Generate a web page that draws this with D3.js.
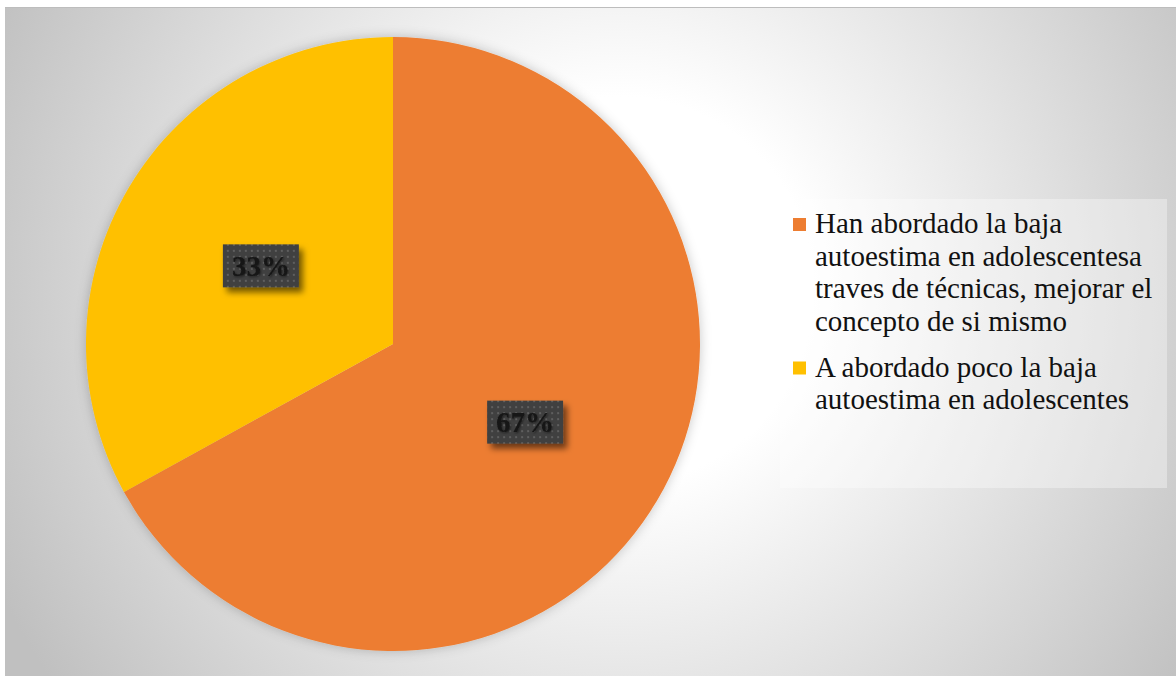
<!DOCTYPE html>
<html>
<head>
<meta charset="utf-8">
<script src="https://cdn.jsdelivr.net/npm/d3@7"></script>
<style>
  html, body { margin: 0; padding: 0; background: #ffffff; }
  svg { display: block; }
</style>
</head>
<body>
<svg id="chart" width="1176" height="676"></svg>
<script>
const categories = [
  "Han abordado la baja autoestima en adolescentesa traves de técnicas, mejorar el concepto de si mismo",
  "A abordado poco la baja autoestima en adolescentes"
];
const values = [67, 33];
const labels = ["67%", "33%"];
const colors = ["#ED7D31", "#FFC000"];

const svg = d3.select("#chart");
const defs = svg.append("defs");

// background radial gradient
const bg = defs.append("radialGradient")
  .attr("id", "bgGrad")
  .attr("gradientUnits", "userSpaceOnUse")
  .attr("cx", 620).attr("cy", 290).attr("r", 690);
bg.append("stop").attr("offset", "0%").attr("stop-color", "#ffffff");
bg.append("stop").attr("offset", "28%").attr("stop-color", "#ffffff");
bg.append("stop").attr("offset", "100%").attr("stop-color", "#c0c0c0");

// pie shadow
const pieShadow = defs.append("filter").attr("id", "pieShadow")
  .attr("x", "-10%").attr("y", "-10%").attr("width", "120%").attr("height", "120%");
pieShadow.append("feDropShadow").attr("dx", 0).attr("dy", 0)
  .attr("stdDeviation", 6).attr("flood-color", "#000").attr("flood-opacity", 0.22);

// label box shadow
const boxShadow = defs.append("filter").attr("id", "boxShadow")
  .attr("x", "-30%").attr("y", "-30%").attr("width", "160%").attr("height", "170%");
boxShadow.append("feDropShadow").attr("dx", 4).attr("dy", 5)
  .attr("stdDeviation", 3).attr("flood-color", "#000").attr("flood-opacity", 0.55);

const textShadow = defs.append("filter").attr("id", "textShadow")
  .attr("x", "-20%").attr("y", "-20%").attr("width", "140%").attr("height", "140%");
textShadow.append("feDropShadow").attr("dx", 1).attr("dy", 1)
  .attr("stdDeviation", 1).attr("flood-color", "#000").attr("flood-opacity", 0.5);

// dotted pattern
const pat = defs.append("pattern").attr("id", "dots")
  .attr("patternUnits", "userSpaceOnUse").attr("width", 6).attr("height", 6);
pat.append("rect").attr("width", 6).attr("height", 6).attr("fill", "#404040");
pat.append("rect").attr("x", 2).attr("y", 2).attr("width", 2).attr("height", 2).attr("fill", "#5e5e5e");

// chart area
svg.append("rect")
  .attr("x", 5).attr("y", 7).attr("width", 1171).attr("height", 669)
  .attr("fill", "url(#bgGrad)");
svg.append("line").attr("x1", 5).attr("x2", 1176).attr("y1", 7.5).attr("y2", 7.5)
  .attr("stroke", "#bdbdbd").attr("stroke-width", 1);

// pie
const cx = 393, cy = 344, R = 307;
const pie = d3.pie().sort(null).value(d => d);
const arcs = pie(values);
const arc = d3.arc().innerRadius(0).outerRadius(R);
const g = svg.append("g").attr("transform", `translate(${cx},${cy})`);
g.append("g").attr("filter", "url(#pieShadow)")
  .selectAll("path").data(arcs).join("path")
  .attr("d", arc)
  .attr("fill", (d, i) => colors[i]);

// data labels
const lab = g.selectAll("g.lab").data(arcs).join("g").attr("class", "lab")
  .attr("transform", d => `translate(${arc.centroid(d)})`);
const bw = 76, bh = 43;
lab.append("rect")
  .attr("x", -bw / 2).attr("y", -bh / 2).attr("width", bw).attr("height", bh)
  .attr("fill", "url(#dots)")
  .attr("filter", "url(#boxShadow)");
lab.append("text")
  .attr("text-anchor", "middle")
  .attr("y", 10)
  .attr("font-family", "'Liberation Serif', 'Times New Roman', serif")
  .attr("font-weight", "bold")
  .attr("font-size", 29)
  .attr("fill", "#151515")
  .attr("filter", "url(#textShadow)")
  .text((d, i) => labels[i]);

// legend
svg.append("rect")
  .attr("x", 780).attr("y", 199).attr("width", 387).attr("height", 289)
  .attr("fill", "#ffffff").attr("fill-opacity", 0.35);

const legend = svg.append("g");
const lineH = 32.5;
let yPos = 233;
categories.forEach((cat, i) => {
  legend.append("rect")
    .attr("x", 793).attr("y", yPos - 15).attr("width", 13).attr("height", 13)
    .attr("fill", colors[i]);
  const t = legend.append("text")
    .attr("x", 815).attr("y", yPos)
    .attr("font-family", "'Liberation Serif', 'Times New Roman', serif")
    .attr("font-size", 29)
    .attr("fill", "#111");
  const words = cat.split(" ");
  let line = [];
  let ts = t.append("tspan").attr("x", 815).attr("y", yPos);
  let n = 0;
  words.forEach(w => {
    line.push(w);
    ts.text(line.join(" "));
    if (ts.node().getComputedTextLength() > 348 && line.length > 1) {
      line.pop();
      ts.text(line.join(" "));
      line = [w];
      n++;
      ts = t.append("tspan").attr("x", 815).attr("y", yPos + n * lineH).text(w);
    }
  });
  yPos += (n + 1) * lineH + 13.5;
});
</script>
</body>
</html>
